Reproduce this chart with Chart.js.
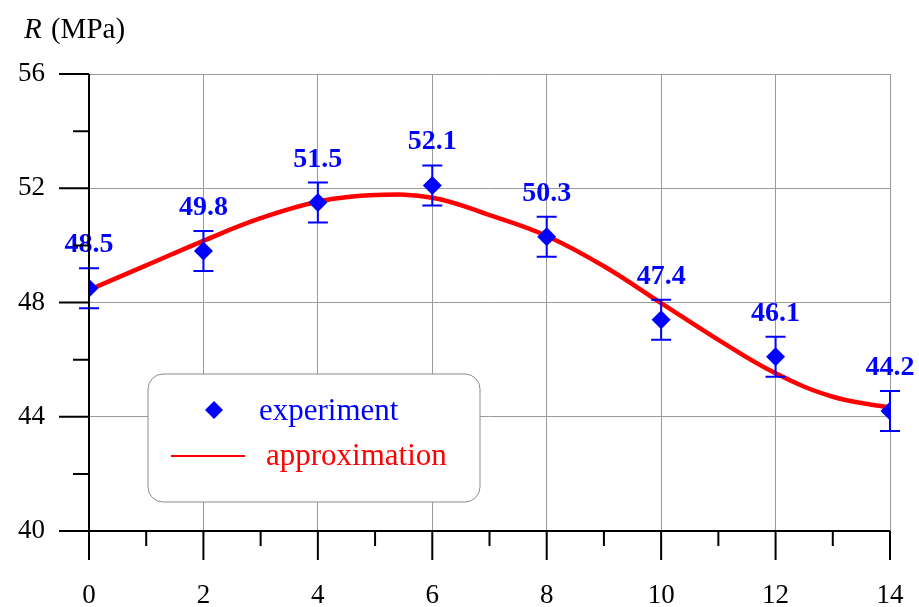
<!DOCTYPE html>
<html>
<head>
<meta charset="utf-8">
<script src="https://cdn.jsdelivr.net/npm/chart.js@4.4.1/dist/chart.umd.min.js"></script>
<style>
  html, body { margin: 0; padding: 0; background: #fff; }
  #wrap { width: 919px; height: 607px; }
</style>
</head>
<body>
<div id="wrap"><canvas id="c" width="919" height="607"></canvas></div>
<script>
// Measured strength R (MPa) at each x, with its error half-width
const expX = [0, 2, 4, 6, 8, 10, 12, 14];
const expR = [48.5, 49.8, 51.5, 52.1, 50.3, 47.4, 46.1, 44.2];
const expErr = [0.7, 0.7, 0.7, 0.7, 0.7, 0.7, 0.7, 0.7];

// Fitted approximation curve, sampled along x
const fitX = [0, 1, 2, 3, 4, 5, 6, 7, 8, 9, 10, 11, 12, 13, 14];
const fitR = [48.44, 49.3, 50.16, 50.95, 51.53, 51.76, 51.67, 51.06, 50.33, 49.27, 47.98, 46.69, 45.52, 44.70, 44.32];

// Axis ranges and labelled ticks
const xTicks = [0, 2, 4, 6, 8, 10, 12, 14];
const yTicks = [40, 44, 48, 52, 56];

const SERIF = '"Liberation Serif", "DejaVu Serif", serif';
const BLUE = '#0000ff';
const RED = '#ff0000';
const GRID = '#9a9a9a';

// Axis lines with long major and short minor tick marks
const axesPlugin = {
  id: 'axesPlugin',
  afterDraw(chart) {
    const { ctx, chartArea: a, scales: { x, y } } = chart;
    ctx.save();
    ctx.strokeStyle = '#000';
    ctx.lineWidth = 2;
    ctx.beginPath();
    ctx.moveTo(a.left, a.top); ctx.lineTo(a.left, a.bottom);
    ctx.moveTo(a.left - 30, a.bottom); ctx.lineTo(a.right, a.bottom);
    for (let v = x.min; v <= x.max; v += 1) {
      const px = x.getPixelForValue(v);
      const len = xTicks.includes(v) ? 29 : 15;
      ctx.moveTo(px, a.bottom); ctx.lineTo(px, a.bottom + len);
    }
    for (let v = y.min; v <= y.max; v += 2) {
      const py = y.getPixelForValue(v);
      const len = yTicks.includes(v) ? 30 : 16;
      ctx.moveTo(a.left - len, py); ctx.lineTo(a.left, py);
    }
    ctx.stroke();
    ctx.restore();
  }
};

// Error bars and value labels above each measured point
const errorPlugin = {
  id: 'errorPlugin',
  afterDatasetsDraw(chart) {
    const { ctx, scales: { x, y } } = chart;
    ctx.save();
    ctx.strokeStyle = BLUE;
    ctx.fillStyle = BLUE;
    ctx.lineWidth = 2;
    ctx.font = 'bold 28px ' + SERIF;
    ctx.textAlign = 'center';
    ctx.textBaseline = 'alphabetic';
    expX.forEach((xv, i) => {
      const px = x.getPixelForValue(xv);
      const top = y.getPixelForValue(expR[i] + expErr[i]);
      const bot = y.getPixelForValue(expR[i] - expErr[i]);
      ctx.beginPath();
      ctx.moveTo(px, top); ctx.lineTo(px, bot);
      ctx.moveTo(px - 10, top); ctx.lineTo(px + 10, top);
      ctx.moveTo(px - 10, bot); ctx.lineTo(px + 10, bot);
      ctx.stroke();
      ctx.fillText(expR[i].toFixed(1), px, top - 16);
    });
    ctx.restore();
  }
};

// Axis title and the boxed legend
const decorPlugin = {
  id: 'decorPlugin',
  afterDraw(chart) {
    const { ctx, chartArea: a } = chart;
    ctx.save();
    ctx.fillStyle = '#000';
    ctx.textBaseline = 'alphabetic';
    ctx.textAlign = 'left';
    ctx.font = 'italic 29px ' + SERIF;
    ctx.fillText('R', 24, 38);
    const rw = ctx.measureText('R ').width;
    ctx.font = '29px ' + SERIF;
    ctx.fillText('(MPa)', 26 + rw, 38);

    // legend box
    const bx = a.left + 59, by = a.top + 300, bw = 332, bh = 128;
    ctx.beginPath();
    ctx.roundRect(bx, by, bw, bh, 15);
    ctx.fillStyle = '#fff';
    ctx.fill();
    ctx.strokeStyle = '#8a8a8a';
    ctx.lineWidth = 1;
    ctx.stroke();

    // experiment entry
    const dx = bx + 66, dy = by + 36;
    ctx.beginPath();
    ctx.moveTo(dx - 9, dy); ctx.lineTo(dx, dy - 9); ctx.lineTo(dx + 9, dy); ctx.lineTo(dx, dy + 9);
    ctx.closePath();
    ctx.fillStyle = BLUE;
    ctx.fill();
    ctx.font = '31px ' + SERIF;
    ctx.fillText('experiment', bx + 111, by + 46);

    // approximation entry
    ctx.beginPath();
    ctx.strokeStyle = RED;
    ctx.lineWidth = 2;
    ctx.moveTo(bx + 23, by + 82); ctx.lineTo(bx + 97, by + 82);
    ctx.stroke();
    ctx.fillStyle = RED;
    ctx.fillText('approximation', bx + 118, by + 91);
    ctx.restore();
  }
};

new Chart(document.getElementById('c'), {
  type: 'scatter',
  data: {
    datasets: [
      {
        label: 'approximation',
        data: fitX.map((v, i) => ({ x: v, y: fitR[i] })),
        showLine: true,
        borderColor: RED,
        borderWidth: 4.5,
        pointRadius: 0,
        tension: 0.4,
        fill: false,
        order: 2
      },
      {
        label: 'experiment',
        data: expX.map((v, i) => ({ x: v, y: expR[i] })),
        pointStyle: 'rectRot',
        pointRadius: 9.5,
        backgroundColor: BLUE,
        borderColor: BLUE,
        borderWidth: 0,
        order: 1
      }
    ]
  },
  options: {
    responsive: false,
    animation: false,
    events: [],
    layout: { padding: { top: 74, right: 29, left: 0, bottom: 0 } },
    plugins: { legend: { display: false }, tooltip: { enabled: false } },
    scales: {
      x: {
        type: 'linear', min: 0, max: 14,
        afterFit(s) { s.height = 76; s.paddingLeft = 0; s.paddingRight = 0; },
        border: { display: false },
        grid: {
          drawTicks: false,
          lineWidth: 1,
          color: c => (c.tick && c.tick.value > 0 && xTicks.includes(c.tick.value)) ? GRID : 'rgba(0,0,0,0)'
        },
        ticks: {
          stepSize: 1,
          autoSkip: false,
          maxRotation: 0,
          padding: 49,
          color: '#000',
          font: { family: SERIF, size: 27 },
          callback: v => xTicks.includes(v) ? String(v) : ''
        }
      },
      y: {
        type: 'linear', min: 40, max: 56,
        afterFit(s) { s.width = 89; s.paddingTop = 0; s.paddingBottom = 0; },
        border: { display: false },
        grid: {
          drawTicks: false,
          lineWidth: 1,
          color: c => (c.tick && c.tick.value > 40 && yTicks.includes(c.tick.value)) ? GRID : 'rgba(0,0,0,0)'
        },
        ticks: {
          stepSize: 2,
          autoSkip: false,
          padding: 44,
          color: '#000',
          font: { family: SERIF, size: 27 },
          callback: v => yTicks.includes(v) ? String(v) : ''
        }
      }
    }
  },
  plugins: [axesPlugin, errorPlugin, decorPlugin]
});
</script>
</body>
</html>
